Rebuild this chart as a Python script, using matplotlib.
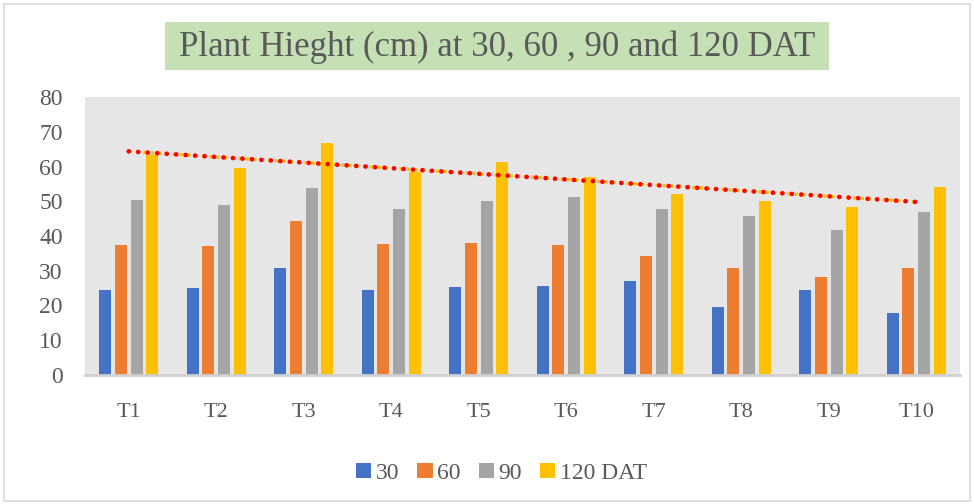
import numpy as np
import matplotlib.pyplot as plt
from matplotlib.patches import Rectangle


# -----------------------------
# Data
# -----------------------------
treatments = ["T1", "T2", "T3", "T4", "T5", "T6", "T7", "T8", "T9", "T10"]
dat_30 = [24.6, 24.9, 30.8, 24.6, 25.2, 25.6, 27.1, 19.5, 24.5, 17.7]
dat_60 = [37.5, 37.0, 44.2, 37.7, 38.1, 37.5, 34.1, 30.7, 28.3, 30.7]
dat_90 = [50.5, 48.9, 53.9, 47.9, 50.1, 51.2, 47.9, 45.7, 41.8, 46.9]
dat_120 = [63.2, 59.5, 66.9, 58.3, 61.4, 56.9, 52.1, 50.1, 48.4, 54.1]
series_labels = ["30", "60", "90", "120 DAT"]
colors = ["#4472C4", "#ED7D31", "#A5A5A5", "#FFC000"]
title = "Plant Hieght (cm) at 30, 60 , 90 and 120 DAT"

plt.rcParams["font.family"] = ["Liberation Serif", "DejaVu Serif"]
text_col = "#595959"

fig = plt.figure(figsize=(9.74, 5.04), dpi=100)
ax = fig.add_axes([0.0873, 0.256, 0.8983, 0.5515])

# outer chart border
fig.patches.append(Rectangle((0.004, 0.006), 0.992, 0.986, transform=fig.transFigure,
                             fill=False, edgecolor="#D9D9D9", linewidth=1.2))

# title box
fig.patches.append(Rectangle((0.1694, 0.861), 0.6817, 0.0952, transform=fig.transFigure,
                             facecolor="#C5E0B4", edgecolor="none"))
fig.text(0.51, 0.906, title, ha="center", va="center", fontsize=25, color=text_col)

x = np.arange(len(treatments))
step = 0.18
width = 0.137
all_series = [dat_30, dat_60, dat_90, dat_120]
for i, (vals, lab, col) in enumerate(zip(all_series, series_labels, colors)):
    offs = (i - 1.5) * step
    ax.bar(x + offs, vals, width=width, color=col, label=lab, zorder=2)

# linear trendline on the 120 DAT series
coef = np.polyfit(x, dat_120, 1)
trend = np.polyval(coef, x)
ax.plot(x, trend, color="#FFC000", linewidth=2.4, linestyle=(0, (1.0, 1.2)), zorder=3)
ax.plot(x, trend, color="#FF0000", linewidth=3.4, linestyle=(0, (0.01, 2.0)),
        dash_capstyle="round", zorder=4)

ax.set_facecolor("#E6E6E6")
ax.set_xlim(-0.5, len(treatments) - 0.5)
ax.set_ylim(0, 80)
ax.set_yticks(np.arange(0, 81, 10))
ax.set_xticks(x)
ax.set_xticklabels(treatments)
for s in ["top", "right", "left"]:
    ax.spines[s].set_visible(False)
ax.spines["bottom"].set_color("#D0D0D0")
ax.spines["bottom"].set_linewidth(2)
ax.tick_params(axis="both", length=0, labelcolor=text_col)
ax.tick_params(axis="x", pad=20, labelsize=16)
ax.tick_params(axis="y", pad=16, labelsize=17)

ax.legend(loc="center", bbox_to_anchor=(0.515, 0.06), bbox_transform=fig.transFigure,
          ncol=4, frameon=False, fontsize=17, handlelength=0.65, handleheight=0.6,
          handletextpad=0.2, columnspacing=0.75, labelcolor=text_col)

plt.savefig("out.png", dpi=100)
